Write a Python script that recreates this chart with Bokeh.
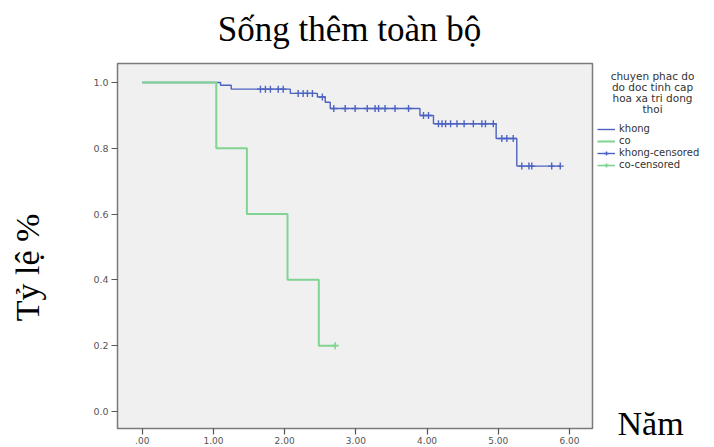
import numpy as np
from bokeh.plotting import figure
from bokeh.layouts import row, column
from bokeh.models import Range1d, FixedTicker, Label, Legend, LegendItem, ColumnDataSource
from bokeh.embed import file_html
from bokeh.resources import INLINE

# Kaplan-Meier step data: event times and survival after each event
khong_times = [0.0, 1.10, 1.25, 2.08, 2.46, 2.57, 2.64, 3.90, 4.09, 4.97, 5.26, 5.88]
khong_surv = [1.0, 0.992, 0.980, 0.967, 0.956, 0.940, 0.921, 0.900, 0.875, 0.830, 0.746, 0.746]
co_times = [0.0, 1.04, 1.47, 2.04, 2.48, 2.71]
co_surv = [1.0, 0.8, 0.6, 0.4, 0.2, 0.2]

# censored observation times
khong_censored = [1.66, 1.73, 1.80, 1.91, 1.98, 2.19, 2.26, 2.32, 2.39, 2.53,
                  2.69, 2.85, 2.99, 3.16, 3.27, 3.32, 3.41, 3.55, 3.74,
                  3.95, 4.02, 4.16, 4.21, 4.26, 4.33, 4.42, 4.52, 4.65, 4.77, 4.82, 4.93,
                  5.05, 5.12, 5.21, 5.33, 5.43, 5.47, 5.75, 5.87]
co_censored = [2.71]

x_ticks = [0, 1, 2, 3, 4, 5, 6]
x_tick_labels = [".00", "1.00", "2.00", "3.00", "4.00", "5.00", "6.00"]
y_ticks = [0.0, 0.2, 0.4, 0.6, 0.8, 1.0]
y_tick_labels = ["0.0", "0.2", "0.4", "0.6", "0.8", "1.0"]

title_text = "Sống thêm toàn bộ"
y_label_text = "Tỷ lệ %"
x_label_text = "Năm"
legend_title_lines = ["chuyen phac do", "do doc tinh cap", "hoa xa tri dong", "thoi"]
series_names = ["khong", "co", "khong-censored", "co-censored"]

BLUE = "#4d63c2"
GREEN = "#7fd492"
SERIF = "Liberation Serif"
SANS = "DejaVu Sans"

W, H = 714, 447
TOP_H = 62          # band holding the title
LEFT_W = 50         # band holding the y caption
SIDE_W = 118        # band holding the legend and the x caption
MAIN_W = W - LEFT_W - SIDE_W
ROW_H = H - TOP_H


def surv_at(times, surv, t):
    idx = np.searchsorted(np.asarray(times), t, side="right") - 1
    return float(np.asarray(surv)[idx])


def text_panel(width, height, x0, y0):
    """Blank figure whose data units are page pixels (y grows downward)."""
    f = figure(width=width, height=height, output_backend="svg", toolbar_location=None,
               x_range=Range1d(x0, x0 + width), y_range=Range1d(y0 + height, y0),
               x_axis_location=None, y_axis_location=None,
               min_border_left=0, min_border_right=0, min_border_top=0, min_border_bottom=0)
    f.title.visible = False
    f.outline_line_color = None
    f.background_fill_color = "white"
    f.border_fill_color = "white"
    f.xgrid.visible = False
    f.ygrid.visible = False
    if "frame_align" in f.properties():
        f.frame_align = False
    return f


# ---- main survival plot ----
p = figure(width=MAIN_W, height=ROW_H, output_backend="svg", toolbar_location=None,
           x_range=Range1d(-0.347, 6.323), y_range=Range1d(-0.052, 1.058),
           min_border_left=117 - LEFT_W, min_border_right=4, min_border_top=1,
           min_border_bottom=19)
p.title.visible = False
p.background_fill_color = "#f0f0f0"
p.border_fill_color = "white"
p.outline_line_color = "#7a7a7a"
p.outline_line_width = 1.5
p.xgrid.visible = False
p.ygrid.visible = False
if "frame_align" in p.properties():
    p.frame_align = False

for ax in (p.xaxis[0], p.yaxis[0]):
    ax.axis_line_color = None
    ax.major_tick_out = 6
    ax.major_tick_in = 0
    ax.minor_tick_out = 0
    ax.minor_tick_in = 0
    ax.major_tick_line_color = "#555555"
    ax.major_tick_line_width = 1.2
    ax.major_label_text_font = SANS
    ax.major_label_text_font_size = "9px"
    ax.major_label_text_color = "#555555"

p.xaxis.ticker = FixedTicker(ticks=x_ticks)
p.xaxis.major_label_overrides = dict(zip(x_ticks, x_tick_labels))
p.xaxis.major_label_standoff = 2
p.yaxis.ticker = FixedTicker(ticks=y_ticks)
p.yaxis.major_label_overrides = dict(zip(y_ticks, y_tick_labels))
p.yaxis.major_label_standoff = 3
p.yaxis.major_label_text_font_size = "9.5px"

# survival curves (green drawn last so it sits on top where both are at 1.0)
p.step(khong_times, khong_surv, mode="after", line_color=BLUE, line_width=1.4)
p.step(co_times, co_surv, mode="after", line_color=GREEN, line_width=2)

k_cy = [surv_at(khong_times, khong_surv, t) for t in khong_censored]
c_cy = [surv_at(co_times, co_surv, t) for t in co_censored]
p.scatter(khong_censored, k_cy, marker="cross", size=7, line_color=BLUE, line_width=1.4)
p.scatter(co_censored, c_cy, marker="cross", size=7, line_color=GREEN, line_width=1.6)

# ---- title band ----
top = text_panel(W, TOP_H, 0, 0)
top.add_layout(Label(x=349, y=29, text=title_text, text_align="center",
                     text_baseline="alphabetic", text_font=SERIF, text_font_size="35px",
                     text_color="black"))

# ---- y caption band ----
left = text_panel(LEFT_W, ROW_H, 0, TOP_H)
left.add_layout(Label(x=27, y=267, text=y_label_text, angle=np.pi / 2,
                      text_align="center", text_baseline="alphabetic",
                      text_font=SERIF, text_font_size="34px", text_color="black"))

# ---- legend / x caption band ----
side = text_panel(SIDE_W, ROW_H, LEFT_W + MAIN_W, TOP_H)

swatch = ColumnDataSource(data=dict(x=[np.nan], y=[np.nan]))
sw_khong = side.step("x", "y", source=swatch, mode="after", line_color=BLUE, line_width=1.4)
sw_co = side.step("x", "y", source=swatch, mode="after", line_color=GREEN, line_width=2)
sw_kc_l = side.line("x", "y", source=swatch, line_color=BLUE, line_width=1.4)
sw_kc_m = side.scatter("x", "y", source=swatch, marker="cross", size=7, line_color=BLUE, line_width=1.4)
sw_cc_l = side.line("x", "y", source=swatch, line_color=GREEN, line_width=1.6)
sw_cc_m = side.scatter("x", "y", source=swatch, marker="cross", size=7, line_color=GREEN, line_width=1.6)

legend = Legend(items=[
    LegendItem(label=series_names[0], renderers=[sw_khong]),
    LegendItem(label=series_names[1], renderers=[sw_co]),
    LegendItem(label=series_names[2], renderers=[sw_kc_l, sw_kc_m]),
    LegendItem(label=series_names[3], renderers=[sw_cc_l, sw_cc_m]),
], location=(1, H - 170))
legend.padding = 0
legend.margin = 0
legend.spacing = 1
legend.glyph_width = 18
legend.glyph_height = 10
legend.label_height = 10
legend.label_standoff = 4
legend.label_text_font = SANS
legend.label_text_font_size = "10px"
legend.label_text_color = "#333333"
legend.border_line_alpha = 0
legend.background_fill_alpha = 0
side.add_layout(legend, "center")

for i, line in enumerate(legend_title_lines):
    side.add_layout(Label(x=652, y=75 + 11 * i, text=line, text_align="center",
                          text_baseline="middle", text_font=SANS, text_font_size="10.5px",
                          text_color="#333333"))

side.add_layout(Label(x=617, y=423, text=x_label_text, text_align="left",
                      text_baseline="alphabetic", text_font=SERIF, text_font_size="34px",
                      text_color="black"))

layout = column(top, row(left, p, side, spacing=0), spacing=0)
open("out.html", "w").write(file_html(layout, INLINE))
